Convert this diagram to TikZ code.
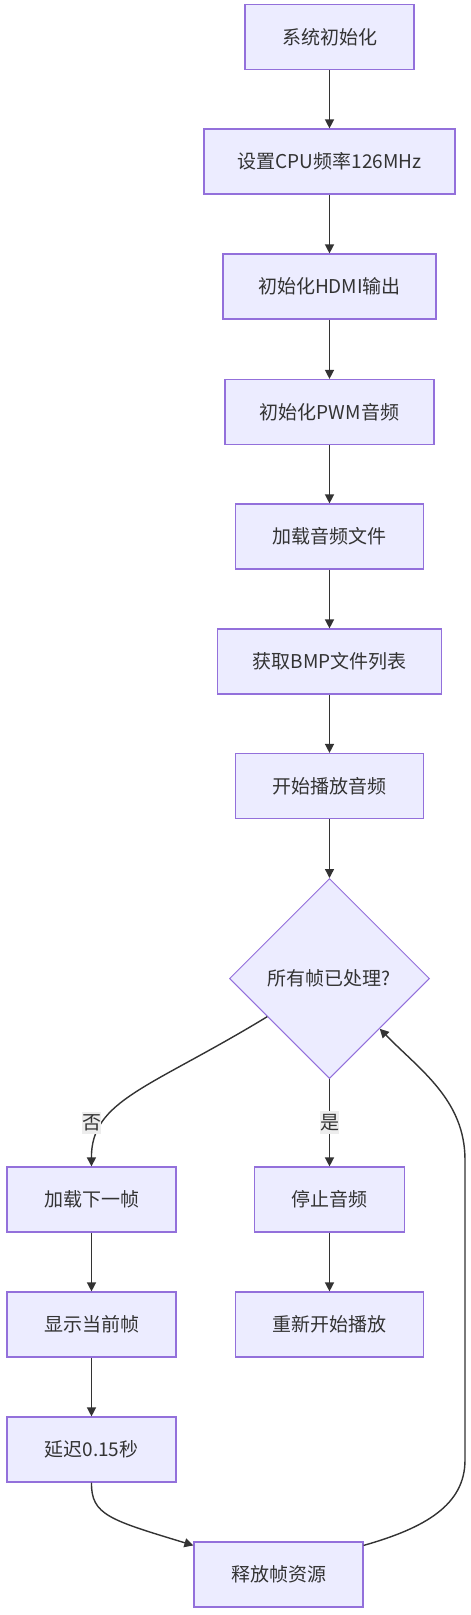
\documentclass[tikz,border=0pt]{standalone}
\usepackage{fontspec}
\setmainfont{Noto Sans CJK SC}
\usepackage{tikz}
\usetikzlibrary{positioning, shapes.geometric, arrows.meta, calc}
\definecolor{boxFill}{HTML}{ECECFF}
\definecolor{boxBorder}{HTML}{9370DB}
\definecolor{lineColor}{HTML}{333333}
\definecolor{labelFill}{HTML}{EDEDED}
\tikzstyle{flowchart} = [x = 1pt, y = -1pt, every node/.style={font=\fontsize{19}{23}\selectfont, text=lineColor}]
\tikzstyle{boxStyle} = [draw=boxBorder, fill=boxFill, line width=1.2pt, minimum height=65pt, inner sep=0pt]
\tikzstyle{decisionStyle} = [diamond, draw=boxBorder, fill=boxFill, line width=1pt, minimum width=200pt, minimum height=200pt, inner sep=0pt]
\tikzstyle{arrowStyle} = [draw=lineColor, line width=1.4pt, -{Triangle[length=9pt, width=9pt]}]
\tikzstyle{labelStyle} = [fill=labelFill, inner xsep=0pt, inner ysep=3pt]
\newcommand{\flowBox}[5]{\node [boxStyle, minimum width=#2] (#1) at (#3,#4) {#5};}

\begin{document}
\begin{tikzpicture}[flowchart]
  \useasboundingbox (0,0) rectangle (471,1615);

  % main column
  \flowBox{sysInit}{169pt}{329.5}{37}{系统初始化}
  \flowBox{cpuClock}{251pt}{329.5}{161.5}{设置CPU频率126MHz}
  \flowBox{hdmiInit}{213pt}{329.5}{286.5}{初始化HDMI输出}
  \flowBox{pwmInit}{209pt}{329.5}{412}{初始化PWM音频}
  \flowBox{loadAudio}{188pt}{329.5}{536.5}{加载音频文件}
  \flowBox{bmpList}{224pt}{329.5}{661.5}{获取BMP文件列表}
  \flowBox{playAudio}{188pt}{329.5}{786}{开始播放音频}
  \node [decisionStyle] (frameCheck) at (329.5,978.5) {所有帧已处理?};

  % branches
  \flowBox{loadFrame}{169pt}{91.5}{1199.5}{加载下一帧}
  \flowBox{showFrame}{169pt}{91.5}{1324.5}{显示当前帧}
  \flowBox{frameDelay}{169pt}{91.5}{1449.5}{延迟0.15秒}
  \flowBox{freeFrame}{169pt}{278.5}{1574.5}{释放帧资源}
  \flowBox{stopAudio}{150pt}{329.5}{1199.5}{停止音频}
  \flowBox{restartPlay}{188pt}{329.5}{1324.5}{重新开始播放}

  \foreach \from/\to in {sysInit/cpuClock, cpuClock/hdmiInit, hdmiInit/pwmInit, pwmInit/loadAudio,
    loadAudio/bmpList, bmpList/playAudio, playAudio/frameCheck, loadFrame/showFrame,
    showFrame/frameDelay, stopAudio/restartPlay} {
    \draw [arrowStyle] (\from) -- (\to);
  }

  \draw [arrowStyle] ($(frameCheck.west)!0.38!(frameCheck.south)$) .. controls (150,1088) and (91,1100) .. (loadFrame.north);
  \node [labelStyle] (noLabel) at (91.5,1123) {否};
  \draw [arrowStyle] (frameCheck) -- node [labelStyle] (yesLabel) {是} (stopAudio);

  \draw [arrowStyle] (frameDelay.south) .. controls (91,1515) and (110,1520) .. ([yshift=-4pt]freeFrame.north west);
  \draw [arrowStyle] ([yshift=-4pt]freeFrame.north east) .. controls (425,1528) and (465,1505) .. (465,1460)
    -- (465,1160) .. controls (465,1100) and (420,1070) .. (frameCheck.south east);
\end{tikzpicture}
\end{document}
